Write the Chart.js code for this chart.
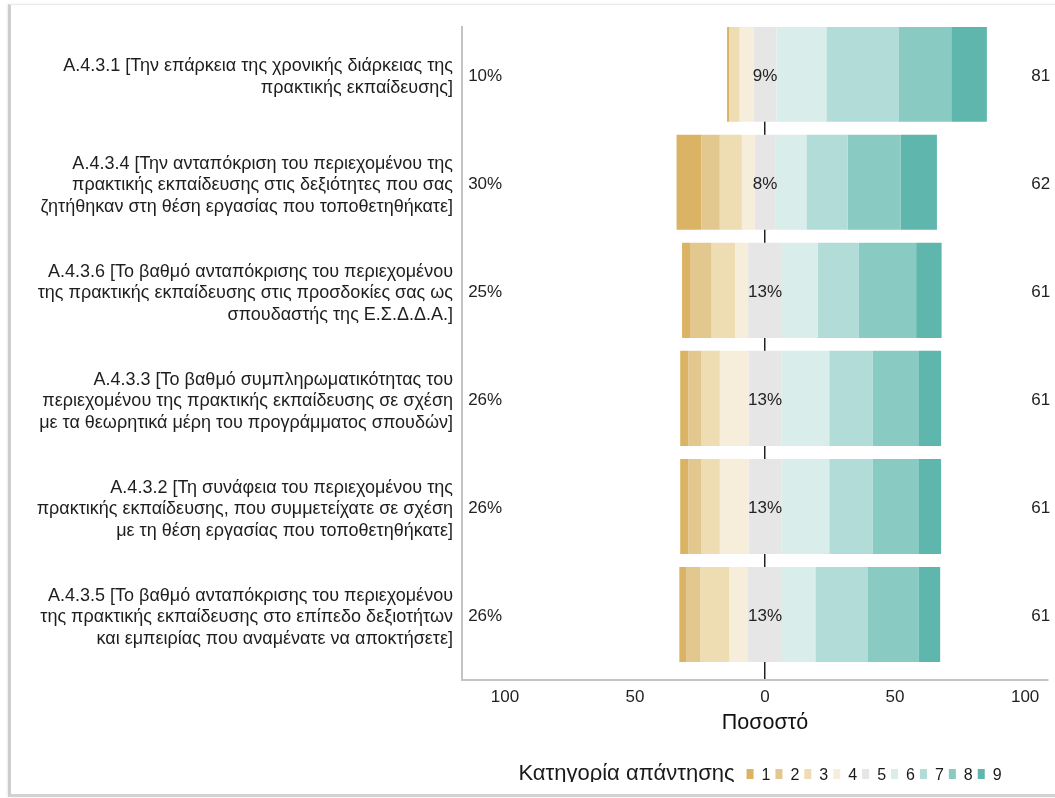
<!DOCTYPE html>
<html lang="el">
<head>
<meta charset="utf-8">
<title>Πρακτική εκπαίδευση</title>
<script src="https://cdn.jsdelivr.net/npm/chart.js@4.4.1/dist/chart.umd.min.js"></script>
<style>
  html, body { margin: 0; padding: 0; background: #fff; }
  #wrap { position: relative; width: 1055px; height: 782px; overflow: hidden; }
  #frame {
    position: absolute; left: 8px; top: 4px; width: 1100px; height: 789px;
    border-left: 3px solid #cdcdcd; border-top: 1px solid #ececec; border-bottom: 3px solid #d2d2d2;
    box-shadow: -1px 0 2px rgba(0, 0, 0, 0.08); pointer-events: none;
  }
</style>
</head>
<body>
<div id="wrap"><canvas id="likert" width="1055" height="800"></canvas></div>
<div id="frame"></div>
<script>
// ερωτήσεις (από πάνω προς τα κάτω)
const items = [
  ["Α.4.3.1 [Την επάρκεια της χρονικής διάρκειας της", "πρακτικής εκπαίδευσης]"],
  ["Α.4.3.4 [Την ανταπόκριση του περιεχομένου της", "πρακτικής εκπαίδευσης στις δεξιότητες που σας", "ζητήθηκαν στη θέση εργασίας που τοποθετηθήκατε]"],
  ["Α.4.3.6 [Το βαθμό ανταπόκρισης του περιεχομένου", "της πρακτικής εκπαίδευσης στις προσδοκίες σας ως", "σπουδαστής της Ε.Σ.Δ.Δ.Α.]"],
  ["Α.4.3.3 [Το βαθμό συμπληρωματικότητας του", "περιεχομένου της πρακτικής εκπαίδευσης σε σχέση", "με τα θεωρητικά μέρη του προγράμματος σπουδών]"],
  ["Α.4.3.2 [Τη συνάφεια του περιεχομένου της", "πρακτικής εκπαίδευσης, που συμμετείχατε σε σχέση", "με τη θέση εργασίας που τοποθετηθήκατε]"],
  ["Α.4.3.5 [Το βαθμό ανταπόκρισης του περιεχομένου", "της πρακτικής εκπαίδευσης στο επίπεδο δεξιοτήτων", "και εμπειρίας που αναμένατε να αποκτήσετε]"],
];

// ποσοστά (%) ανά κατηγορία απάντησης 1..9, μία τιμή ανά ερώτηση
const cat1 = [0.8, 9.5, 3.3, 3.1, 3.1, 2.6];
const cat2 = [0.0, 7.1, 8.0, 4.9, 4.9, 5.5];
const cat3 = [4.0, 8.5, 9.1, 7.2, 7.2, 11.1];
const cat4 = [5.4, 5.0, 5.0, 11.1, 11.1, 7.2];
const cat5 = [8.8, 7.8, 13.0, 12.6, 12.6, 13.1];
const cat6 = [19.2, 12.0, 13.8, 18.4, 18.4, 12.8];
const cat7 = [27.9, 15.9, 15.8, 16.6, 16.6, 20.0];
const cat8 = [20.1, 20.4, 22.0, 17.9, 17.9, 19.6];
const cat9 = [13.7, 13.9, 9.8, 8.5, 8.5, 8.4];

const responseLabels = ["1", "2", "3", "4", "5", "6", "7", "8", "9"];
const responseColors = ["#DBB365", "#E2C78F", "#EEDCB3", "#F6EDDB", "#E6E6E6", "#D9EDEB", "#B1DCD8", "#89CAC2", "#5FB6AD"];
const legendTitle = "Κατηγορία απάντησης";
const axisTitle = "Ποσοστό";

const series = [cat1, cat2, cat3, cat4, cat5, cat6, cat7, cat8, cat9];
const FONT = '"Liberation Sans", Arial, sans-serif';
Chart.defaults.font.family = FONT;

// ουδέτερη κατηγορία κεντραρισμένη στο 0, 1-4 προς τα αριστερά, 6-9 προς τα δεξιά
function segments(i) {
  const v = series.map((s) => s[i]);
  const half = v[4] / 2;
  const out = new Array(9);
  out[4] = [-half, half];
  let edge = -half;
  for (let k = 3; k >= 0; k--) {
    out[k] = [edge - v[k], edge];
    edge -= v[k];
  }
  edge = half;
  for (let k = 5; k < 9; k++) {
    out[k] = [edge, edge + v[k]];
    edge += v[k];
  }
  return out;
}
const segs = items.map((_, i) => segments(i));

const datasets = series.map((s, k) => ({
  label: responseLabels[k],
  data: items.map((_, i) => ({ y: i, x: segs[i][k] })),
  backgroundColor: responseColors[k],
  borderWidth: 0,
  grouped: false,
  barPercentage: 0.88,
  categoryPercentage: 1,
}));

// ποσοστά αρνητικών / ουδέτερων / θετικών απαντήσεων
const sumLabels = {
  id: "sumLabels",
  afterDatasetsDraw(chart) {
    const { ctx, scales: { x, y } } = chart;
    ctx.save();
    ctx.font = "17px " + FONT;
    ctx.fillStyle = "#222";
    ctx.textAlign = "center";
    ctx.textBaseline = "middle";
    items.forEach((_, i) => {
      const low = cat1[i] + cat2[i] + cat3[i] + cat4[i];
      const high = cat6[i] + cat7[i] + cat8[i] + cat9[i];
      const py = y.getPixelForValue(i) + 2;
      ctx.fillText(Math.round(low) + "%", x.getPixelForValue(-107.6), py);
      ctx.fillText(Math.round(cat5[i]) + "%", x.getPixelForValue(0), py);
      ctx.fillText(String(Math.round(high)), x.getPixelForValue(106), py);
    });
    ctx.restore();
  },
};

// τίτλος άξονα κάτω από το 0 και υπόμνημα σε μία γραμμή
const responseLegend = {
  id: "responseLegend",
  afterDraw(chart) {
    const { ctx, chartArea, scales: { x } } = chart;
    const zeroX = x.getPixelForValue(0);
    ctx.save();
    ctx.textAlign = "center";
    ctx.textBaseline = "middle";
    ctx.fillStyle = "#111";
    ctx.font = "21.5px " + FONT;
    ctx.fillText(axisTitle, zeroX, chartArea.bottom + 43);

    const baseline = chartArea.bottom + 100;
    const boxW = 7, boxH = 10, boxGap = 8, itemGap = 5, titleGap = 12;
    ctx.font = "22px " + FONT;
    const titleW = ctx.measureText(legendTitle).width;
    ctx.font = "16px " + FONT;
    const itemW = responseLabels.map((t) => boxW + boxGap + ctx.measureText(t).width);
    const total = titleW + titleGap + itemW.reduce((a, b) => a + b, 0) + itemGap * (itemW.length - 1);
    let cx = zeroX - 5 - total / 2;
    ctx.textBaseline = "alphabetic";
    ctx.textAlign = "left";
    ctx.fillStyle = "#1a1a1a";
    ctx.font = "22px " + FONT;
    ctx.fillText(legendTitle, cx, baseline);
    cx += titleW + titleGap;
    ctx.font = "16px " + FONT;
    responseLabels.forEach((t, k) => {
      ctx.fillStyle = responseColors[k];
      ctx.fillRect(cx, baseline - boxH - 1, boxW, boxH);
      ctx.fillStyle = "#1a1a1a";
      ctx.fillText(t, cx + boxW + boxGap, baseline);
      cx += itemW[k] + itemGap;
    });
    ctx.restore();
  },
};

new Chart(document.getElementById("likert"), {
  type: "bar",
  data: { datasets },
  plugins: [sumLabels, responseLegend],
  options: {
    indexAxis: "y",
    responsive: false,
    animation: false,
    layout: { padding: { top: 27, right: 7, bottom: 66, left: 0 } },
    plugins: { legend: { display: false }, tooltip: { enabled: false } },
    scales: {
      x: {
        type: "linear",
        min: -116.5,
        max: 108.8,
        afterFit(scale) {
          scale.height = 54;
          scale.paddingLeft = 0;
          scale.paddingRight = 0;
        },
        grid: {
          drawTicks: false,
          lineWidth: 1.5,
          color: (c) => (c.tick && c.tick.value === 0 ? "#222" : "rgba(0,0,0,0)"),
        },
        border: { color: "#c4c4c4", width: 2 },
        ticks: {
          stepSize: 50,
          includeBounds: false,
          padding: 7,
          color: "#222",
          font: { size: 17 },
          callback: (v) => Math.abs(v),
        },
      },
      y: {
        type: "linear",
        reverse: true,
        offset: false,
        min: -0.437,
        max: 5.606,
        afterFit(scale) {
          scale.width = 462;
          scale.paddingTop = 0;
          scale.paddingBottom = 0;
        },
        grid: { display: false, drawTicks: false, offset: false },
        border: { display: true, color: "#c4c4c4", width: 2 },
        ticks: {
          stepSize: 1,
          includeBounds: false,
          autoSkip: false,
          padding: 9,
          labelOffset: 3,
          color: "#1e1e1e",
          font: { size: 18, lineHeight: 1.19 },
          callback: (v) => items[v] || "",
        },
      },
    },
  },
});
</script>
</body>
</html>
